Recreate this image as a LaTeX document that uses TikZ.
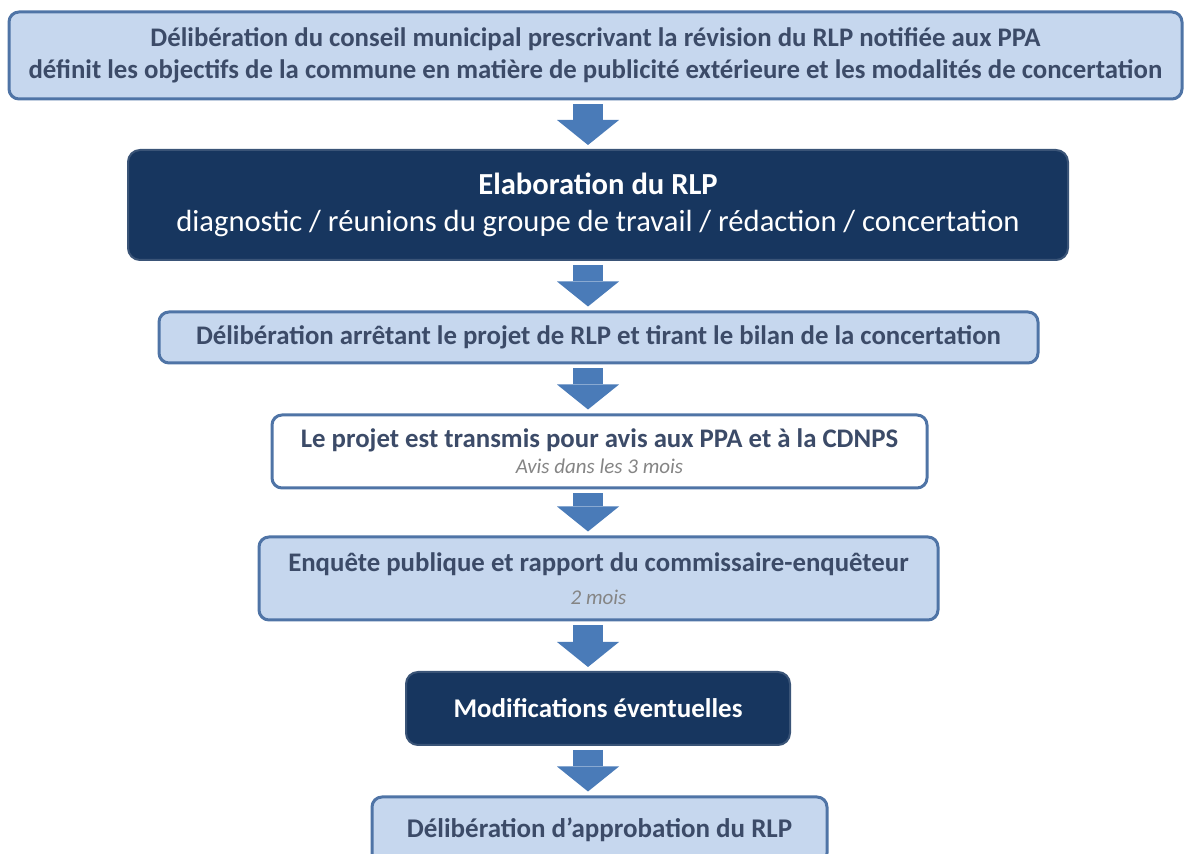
\documentclass[tikz,border=0pt]{standalone}
\usepackage{fontspec}
\setmainfont{Carlito}
\usetikzlibrary{arrows.meta,calc}

\definecolor{boxfill}{HTML}{C6D7EE}
\definecolor{boxline}{HTML}{4F74A6}
\definecolor{boxtext}{HTML}{3C4B68}
\definecolor{darkfill}{HTML}{17365F}
\definecolor{arrowfill}{HTML}{4A7BB8}
\definecolor{notegray}{HTML}{858585}

\tikzset{
  etape/.style={draw=boxline, line width=1.5pt, rounded corners=5pt, fill=boxfill, text=boxtext, align=center, inner sep=0pt},
  etapeblanche/.style={etape, fill=white},
  etapefoncee/.style={draw=darkfill!85!white, line width=1pt, rounded corners=6pt, fill=darkfill, text=white, align=center, inner sep=0pt},
  fleche/.style={draw=arrowfill, line width=15pt, -{Triangle[width=31pt,length=12.5pt,line width=0pt]}, shorten <=2pt, shorten >=2pt},
  note/.style={font=\mdseries\itshape, text=notegray}
}

\begin{document}
\begin{tikzpicture}[x=0.5pt,y=-0.5pt]
\useasboundingbox (0,0) rectangle (1184,854);
\clip (0,0) rectangle (1184,854);
\coordinate (P1) at (595.5,55.5); \coordinate (P2) at (598,205); \coordinate (P3) at (598.5,337.5);
\coordinate (P4) at (599.5,451.5); \coordinate (P5) at (598.5,578.5); \coordinate (P6) at (598,708.5);
\coordinate (P7) at (599.5,830);
\coordinate (axe) at (588,0);

\node[etape, minimum width=586.5pt, minimum height=43.5pt, font=\bfseries\fontsize{13.4}{16}\selectfont] (prescription) at (P1)
  {Délibération du conseil municipal prescrivant la révision du RLP notifiée aux PPA\\
   définit les objectifs de la commune en matière de publicité extérieure et les modalités de concertation};
\node[etapefoncee, minimum width=470pt, minimum height=55pt, font=\fontsize{15.3}{18.5}\selectfont] (elaboration) at (P2)
  {{\bfseries Elaboration du RLP}\\
   diagnostic / réunions du groupe de travail / rédaction / concertation};
\node[etape, minimum width=439.5pt, minimum height=25.5pt, font=\bfseries\fontsize{13.4}{16}\selectfont] (arret) at (P3)
  {Délibération arrêtant le projet de RLP et tirant le bilan de la concertation};
\node[etapeblanche, minimum width=327.5pt, minimum height=36.5pt, font=\bfseries\fontsize{13.4}{13}\selectfont] (avis) at (P4)
  {Le projet est transmis pour avis aux PPA et à la CDNPS\\
   {\mdseries\itshape\color{notegray}\fontsize{10.5}{13}\selectfont Avis dans les 3 mois}};
\node[etape, minimum width=339.5pt, minimum height=41.5pt, font=\bfseries\fontsize{13.4}{16.5}\selectfont] (enquete) at (P5)
  {Enquête publique et rapport du commissaire-enquêteur\\
   {\mdseries\itshape\color{notegray}\fontsize{10.5}{16.5}\selectfont 2 mois}};
\node[etapefoncee, minimum width=192pt, minimum height=36.5pt, font=\bfseries\fontsize{13.5}{16}\selectfont] (modif) at (P6)
  {Modifications éventuelles};
\node[etape, minimum width=227.5pt, minimum height=33pt, font=\bfseries\fontsize{13.5}{16}\selectfont] (approbation) at (P7)
  {Délibération d’approbation du RLP};

% fleches
\draw[fleche] (prescription.south -| axe) -- (elaboration.north -| axe);
\draw[fleche] (elaboration.south -| axe) -- (arret.north -| axe);
\draw[fleche] (arret.south -| axe) -- (avis.north -| axe);
\draw[fleche] (avis.south -| axe) -- (enquete.north -| axe);
\draw[fleche] (enquete.south -| axe) -- (modif.north -| axe);
\draw[fleche] (modif.south -| axe) -- (approbation.north -| axe);
\end{tikzpicture}
\end{document}
